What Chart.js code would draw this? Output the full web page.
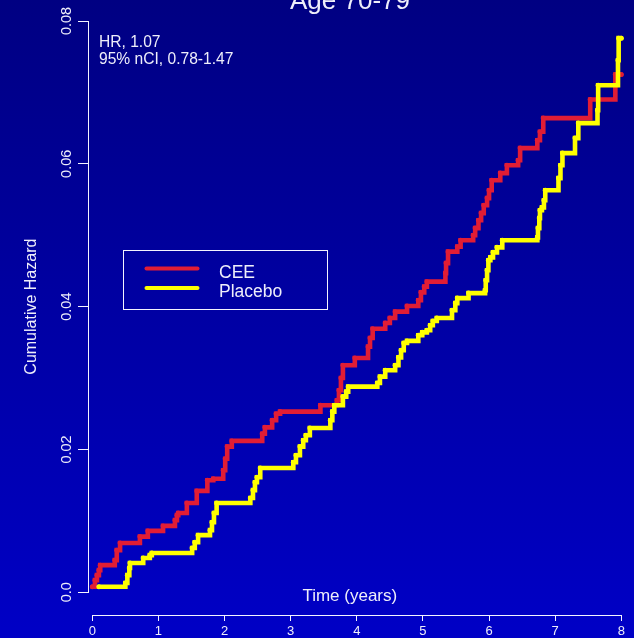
<!DOCTYPE html>
<html>
<head>
<meta charset="utf-8">
<title>Age 70-79 — Cumulative Hazard</title>
<script src="https://cdn.jsdelivr.net/npm/chart.js@4.4.1/dist/chart.umd.min.js"></script>
<style>
  html, body { margin: 0; padding: 0; background: #0000a0; }
  canvas { display: block; }
</style>
</head>
<body>
<canvas id="chart" width="634" height="638"></canvas>
<script>
// Cumulative hazard step curves, years since randomization
const ceeTimes = [0, 0.04, 0.07, 0.10, 0.12, 0.34, 0.37, 0.42, 0.72, 0.84, 1.07, 1.25, 1.28, 1.30, 1.43, 1.58,
  1.74, 1.83, 1.98, 2.01, 2.04, 2.11, 2.57, 2.61, 2.72, 2.78, 2.84, 3.45, 3.70, 3.73, 3.76, 3.79, 3.97,
  4.17, 4.20, 4.24, 4.43, 4.50, 4.58, 4.76, 4.93, 4.97, 5.02, 5.06, 5.34, 5.35, 5.38, 5.52, 5.57, 5.76,
  5.79, 5.84, 5.88, 5.92, 5.97, 6.00, 6.04, 6.17, 6.27, 6.44, 6.47, 6.73, 6.77, 6.82, 7.53, 7.91, 8.00];
const ceeHazard = [0.00078, 0.0017, 0.0024, 0.0031, 0.0038, 0.0045, 0.0059, 0.0069, 0.0078, 0.0086, 0.0093,
  0.0101, 0.0108, 0.0111, 0.0125, 0.0142, 0.0157, 0.0159, 0.0171, 0.0187, 0.0204, 0.0212, 0.0222, 0.0231,
  0.0241, 0.0250, 0.0253, 0.0262, 0.0269, 0.0283, 0.0300, 0.0318, 0.0328, 0.0344, 0.0356, 0.0369, 0.0377,
  0.0384, 0.0393, 0.0401, 0.0409, 0.0420, 0.0428, 0.0435, 0.0447, 0.0461, 0.0477, 0.0484, 0.0493, 0.0500,
  0.0510, 0.0521, 0.0531, 0.0542, 0.0552, 0.0563, 0.0577, 0.0587, 0.0598, 0.0605, 0.0622, 0.0633, 0.0645,
  0.0664, 0.0690, 0.0725, 0.0725];

const placeboTimes = [0.10, 0.50, 0.53, 0.56, 0.57, 0.77, 0.87, 0.90, 1.51, 1.55, 1.60, 1.78, 1.81, 1.84, 1.88,
  2.39, 2.43, 2.46, 2.49, 2.54, 3.04, 3.08, 3.14, 3.19, 3.23, 3.29, 3.60, 3.63, 3.66, 3.79, 3.84, 3.87,
  4.31, 4.35, 4.43, 4.58, 4.63, 4.67, 4.71, 4.76, 4.93, 4.99, 5.06, 5.11, 5.15, 5.21, 5.44, 5.49, 5.52,
  5.69, 5.94, 5.95, 5.97, 5.99, 6.02, 6.06, 6.12, 6.20, 6.73, 6.74, 6.76, 6.77, 6.80, 6.83, 6.85, 7.05,
  7.08, 7.11, 7.30, 7.35, 7.64, 7.65, 7.95, 7.96, 8.00];
const placeboHazard = [0.00078, 0.0013, 0.0024, 0.0034, 0.0041, 0.0048, 0.0052, 0.0055, 0.0062, 0.0070, 0.0080,
  0.0087, 0.0098, 0.0111, 0.0125, 0.0132, 0.0143, 0.0154, 0.0161, 0.0174, 0.0182, 0.0192, 0.0204, 0.0213,
  0.0220, 0.0230, 0.0241, 0.0253, 0.0262, 0.0274, 0.0281, 0.0288, 0.0293, 0.0302, 0.0311, 0.0318, 0.0329,
  0.0339, 0.0349, 0.0352, 0.0360, 0.0364, 0.0367, 0.0374, 0.0380, 0.0384, 0.0395, 0.0405, 0.0412, 0.0419,
  0.0423, 0.0437, 0.0451, 0.0465, 0.0469, 0.0476, 0.0483, 0.0493, 0.0497, 0.0510, 0.0524, 0.0535, 0.0539,
  0.0549, 0.0563, 0.0580, 0.0598, 0.0615, 0.0636, 0.0657, 0.0675, 0.0710, 0.0745, 0.0776, 0.0776];

const seriesNames = ['CEE', 'Placebo'];
const xTicks = [0, 1, 2, 3, 4, 5, 6, 7, 8];
const yTicks = [0, 0.02, 0.04, 0.06, 0.08];
const yTickLabels = ['0.0', '0.02', '0.04', '0.06', '0.08'];
const chartTitle = 'Age 70-79';
const xTitle = 'Time (years)';
const yTitle = 'Cumulative Hazard';
const hrLines = ['HR, 1.07', '95% nCI, 0.78-1.47'];

// styling
const FONT = '"Liberation Sans", Arial, Helvetica, sans-serif';
const TEXT = '#eeeefa';
const AXIS = '#f4f4ff';
const RED = '#e11d35';
const YELLOW = '#ffff00';

const toPoints = (xs, ys) => xs.map((x, i) => ({ x, y: ys[i] }));

const background = {
  id: 'background',
  beforeDraw(chart) {
    const { ctx, width, height } = chart;
    const g = ctx.createLinearGradient(0, 0, 0, height);
    g.addColorStop(0, '#000082');
    g.addColorStop(1, '#0000c6');
    ctx.save();
    ctx.fillStyle = g;
    ctx.fillRect(0, 0, width, height);
    ctx.restore();
  }
};

// axis lines that span only the tick range
const axisLines = {
  id: 'axisLines',
  beforeDatasetsDraw(chart) {
    const { ctx, scales: { x, y }, chartArea } = chart;
    ctx.save();
    ctx.strokeStyle = AXIS;
    ctx.lineWidth = 1;
    const lx = Math.round(chartArea.left) - 0.5;
    ctx.beginPath();
    ctx.moveTo(lx, Math.round(y.getPixelForValue(yTicks[0])) + 0.5);
    ctx.lineTo(lx, Math.round(y.getPixelForValue(yTicks[yTicks.length - 1])) + 0.5);
    ctx.stroke();
    const by = Math.round(chartArea.bottom) + 0.5;
    ctx.beginPath();
    ctx.moveTo(Math.round(x.getPixelForValue(xTicks[0])) + 0.5, by);
    ctx.lineTo(Math.round(x.getPixelForValue(xTicks[xTicks.length - 1])) + 0.5, by);
    ctx.stroke();
    ctx.restore();
  }
};

// title, axis labels, HR note and boxed legend
const annotations = {
  id: 'annotations',
  afterDraw(chart) {
    const { ctx, scales: { x, y } } = chart;
    ctx.save();
    ctx.fillStyle = TEXT;
    ctx.textBaseline = 'alphabetic';

    ctx.font = `26px ${FONT}`;
    ctx.textAlign = 'center';
    ctx.fillText(chartTitle, 350, 9);

    ctx.font = `17px ${FONT}`;
    ctx.fillText(xTitle, (x.getPixelForValue(0) + x.getPixelForValue(8)) / 2 - 7, 601);

    // y label, centred on the tick range
    const cy = (y.getPixelForValue(yTicks[0]) + y.getPixelForValue(yTicks[yTicks.length - 1])) / 2;
    ctx.save();
    ctx.translate(35.5, cy);
    ctx.rotate(-Math.PI / 2);
    ctx.font = `16px ${FONT}`;
    ctx.fillText(yTitle, 0, 0);
    ctx.restore();

    ctx.textAlign = 'left';
    ctx.font = `15.6px ${FONT}`;
    ctx.fillText(hrLines[0], 99, 46.7);
    ctx.fillText(hrLines[1], 99, 64);

    // legend box anchored in data coordinates
    const bx = Math.round(x.getPixelForValue(0.46)) + 0.5;
    const by = Math.round(y.getPixelForValue(0.048)) + 0.5;
    const bw = 204, bh = 59;
    ctx.strokeStyle = AXIS;
    ctx.lineWidth = 1;
    ctx.strokeRect(bx, by, bw, bh);
    const ds = chart.data.datasets;
    const rows = [18, 37.4];
    ctx.lineCap = 'round';
    ctx.lineWidth = 4;
    ctx.font = `17.5px ${FONT}`;
    rows.forEach((dy, i) => {
      ctx.strokeStyle = ds[i].borderColor;
      ctx.beginPath();
      ctx.moveTo(bx + 23, by + dy);
      ctx.lineTo(bx + 74, by + dy);
      ctx.stroke();
      ctx.fillText(ds[i].label, bx + 95.5, by + dy + 9.3);
    });
    ctx.restore();
  }
};

const lineStyle = (color) => ({
  borderColor: color,
  backgroundColor: color,
  borderWidth: 4.6,
  borderCapStyle: 'round',
  pointRadius: 2.5,
  pointBorderWidth: 0,
  pointBackgroundColor: color,
  stepped: 'before',
  fill: false,
  clip: false
});

new Chart(document.getElementById('chart'), {
  type: 'line',
  data: {
    datasets: [
      { label: seriesNames[0], data: toPoints(ceeTimes, ceeHazard), order: 2, ...lineStyle(RED) },
      { label: seriesNames[1], data: toPoints(placeboTimes, placeboHazard), order: 1, ...lineStyle(YELLOW) }
    ]
  },
  options: {
    responsive: false,
    animation: false,
    events: [],
    layout: { padding: { left: 0, right: 12.7, top: 21, bottom: 0 } },
    plugins: {
      legend: { display: false },
      tooltip: { enabled: false },
      title: { display: false }
    },
    scales: {
      x: {
        type: 'linear',
        min: -0.05,
        max: 8,
        afterBuildTicks: (s) => { s.ticks = xTicks.map((v) => ({ value: v })); },
        afterFit: (s) => { s.height = 23; },
        border: { display: false },
        grid: { drawOnChartArea: false, drawTicks: true, tickLength: 6, tickColor: AXIS, color: AXIS },
        ticks: {
          autoSkip: false, maxRotation: 0, padding: 3,
          color: TEXT, font: { family: FONT, size: 13 },
          callback: (v) => String(v)
        }
      },
      y: {
        type: 'linear',
        min: -0.00318,
        max: 0.08,
        afterBuildTicks: (s) => { s.ticks = yTicks.map((v) => ({ value: v })); },
        afterFit: (s) => { s.width = 89; },
        border: { display: false },
        grid: { drawOnChartArea: false, drawTicks: true, tickLength: 11, tickColor: AXIS, color: AXIS },
        ticks: {
          minRotation: 90, maxRotation: 90, crossAlign: 'center', padding: -3,
          color: TEXT, font: { family: FONT, size: 14.5 },
          callback: (v, i) => yTickLabels[i]
        },
        title: { display: false }
      }
    }
  },
  plugins: [background, axisLines, annotations]
});
</script>
</body>
</html>
